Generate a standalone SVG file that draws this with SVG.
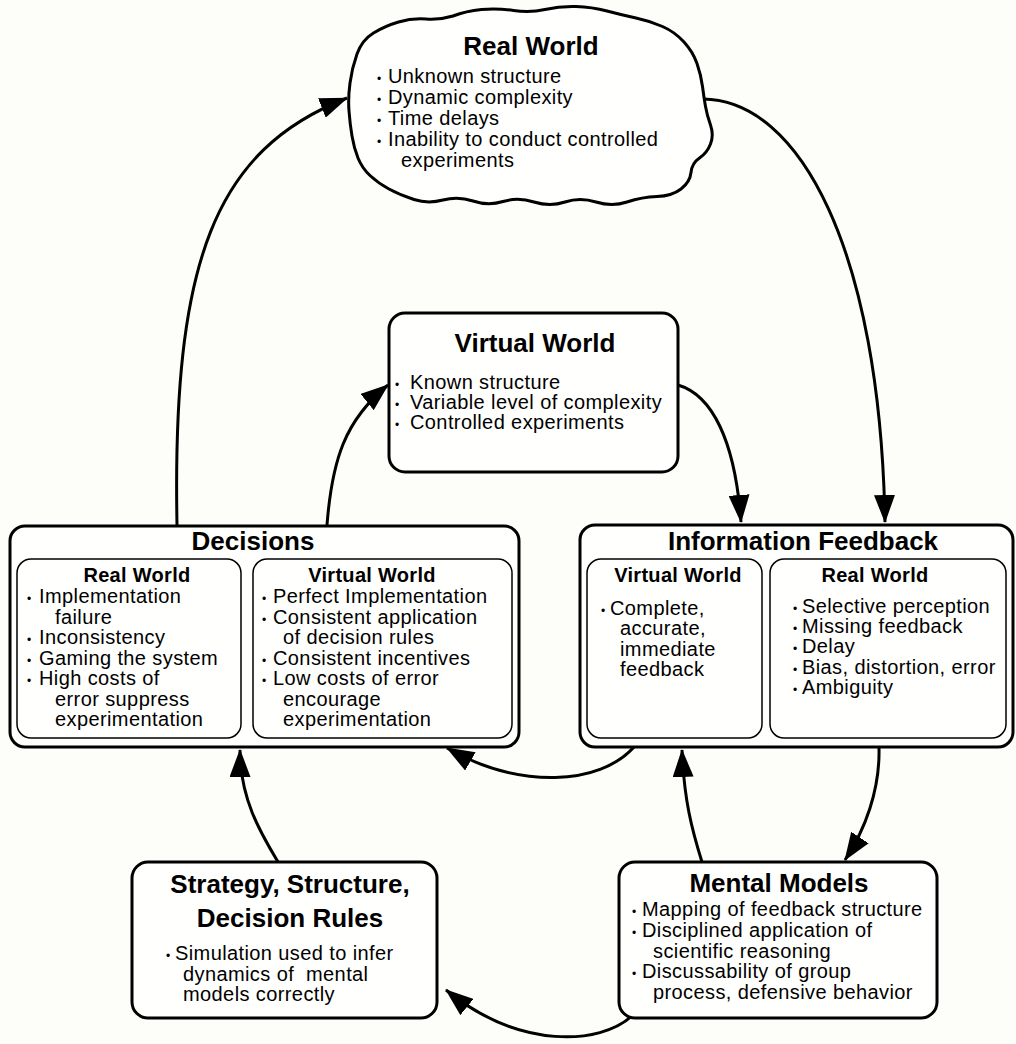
<svg xmlns="http://www.w3.org/2000/svg" width="1016" height="1044" viewBox="0 0 1016 1044">
<defs>
<style>
text { font-family: "Liberation Sans", Arial, Helvetica, sans-serif; fill: #000; }
.h { font-size: 26px; font-weight: bold; text-anchor: middle; }
.s { font-size: 20px; font-weight: bold; text-anchor: middle; letter-spacing: 0.3px; }
.p { font-size: 20px; letter-spacing: 0.4px; }
.b { font-size: 12px; letter-spacing: 0; }
.box { fill: #fffffd; stroke: #000; stroke-width: 3; }
.in { fill: none; stroke: #000; stroke-width: 1.5; }
.c { fill: none; stroke: #000; stroke-width: 3; marker-end: url(#ah); }
</style>
<marker id="ah" viewBox="0 0 28 21" markerWidth="28" markerHeight="21" markerUnits="userSpaceOnUse" refX="27" refY="10.5" orient="auto">
<path d="M0,0 L28,10.5 L0,21 Z" fill="#000"/>
</marker>
</defs>
<rect x="0" y="0" width="1016" height="1044" fill="#fdfdf9"/>

<g id="connectors">
<path class="c" d="M177,525 C172,260 215,150 347,98"/>
<path class="c" d="M703,99 C800,100 880,250 885,522"/>
<path class="c" d="M327,525 C332,460 345,420 388,385"/>
<path class="c" d="M678,385 C712,395 735,440 741,522"/>
<path class="c" d="M634,747 C600,785 520,790 447,748"/>
<path class="c" d="M702,862 C692,830 684,800 682,750"/>
<path class="c" d="M879,748 C880,790 865,830 845,860"/>
<path class="c" d="M632,1016 C600,1045 520,1050 446,990"/>
<path class="c" d="M278,862 C262,835 240,800 240,750"/>
</g>

<g id="real-world">
<path class="box" d="M349,111 Q348,98 350,83 Q352,68 357,54 Q362,40 373.5,33 Q385,26 398.5,22 Q412,18 426,19 Q440,20 453,16 Q466,11 481.5,9.5 Q497,8 513.5,10.5 Q530,13 545,9.5 Q560,6 576,6.5 Q592,7 607,11 Q622,15 636,18 Q650,21 662.5,26.5 Q675,32 684,42 Q693,52 697,63.5 Q701,75 702.5,86.5 Q704,98 705.5,106.5 Q707,115 710.5,125 Q714,135 710.5,144 Q707,153 699.5,158 Q692,163 691,172.5 Q690,182 681,189 Q672,196 657,196.5 Q642,197 627,202 Q612,207 596,202 Q580,197 565,202 Q550,207 534,202 Q518,197 503,201.5 Q488,206 473,201 Q458,196 443,200 Q428,204 414,199.5 Q400,195 389,189 Q378,183 370,175.5 Q362,168 358,158 Q354,148 352,136 Q350,124 349,111 Z"/>
<text class="h" x="531" y="55">Real World</text>
<text class="p" y="83"><tspan class="b" x="377">•</tspan><tspan x="388">Unknown structure</tspan></text>
<text class="p" y="104"><tspan class="b" x="377">•</tspan><tspan x="388">Dynamic complexity</tspan></text>
<text class="p" y="125"><tspan class="b" x="377">•</tspan><tspan x="388">Time delays</tspan></text>
<text class="p" y="146"><tspan class="b" x="377">•</tspan><tspan x="388">Inability to conduct controlled</tspan></text>
<text class="p" x="401" y="167">experiments</text>
</g>

<g id="virtual-world">
<rect class="box" x="389" y="313" width="289" height="159" rx="16"/>
<text class="h" x="535" y="352">Virtual World</text>
<text class="p" y="389"><tspan class="b" x="395">•</tspan><tspan x="410">Known structure</tspan></text>
<text class="p" y="409"><tspan class="b" x="395">•</tspan><tspan x="410">Variable level of complexity</tspan></text>
<text class="p" y="429"><tspan class="b" x="395">•</tspan><tspan x="410">Controlled experiments</tspan></text>
</g>

<g id="decisions">
<rect class="box" x="10" y="526" width="509" height="221" rx="15"/>
<rect class="in" x="17" y="559" width="224" height="179" rx="14"/>
<rect class="in" x="253" y="559" width="259" height="179" rx="14"/>
<text class="h" x="253" y="550">Decisions</text>
<text class="s" x="137" y="582">Real World</text>
<text class="s" x="372" y="582">Virtual World</text>
<text class="p" y="603"><tspan class="b" x="27">•</tspan><tspan x="39">Implementation</tspan></text>
<text class="p" x="55" y="623.5">failure</text>
<text class="p" y="644"><tspan class="b" x="27">•</tspan><tspan x="39">Inconsistency</tspan></text>
<text class="p" y="664.5"><tspan class="b" x="27">•</tspan><tspan x="39">Gaming the system</tspan></text>
<text class="p" y="685"><tspan class="b" x="27">•</tspan><tspan x="39">High costs of</tspan></text>
<text class="p" x="55" y="705.5">error suppress</text>
<text class="p" x="55" y="726">experimentation</text>
<text class="p" y="603"><tspan class="b" x="262">•</tspan><tspan x="273">Perfect Implementation</tspan></text>
<text class="p" y="623.5"><tspan class="b" x="262">•</tspan><tspan x="273">Consistent application</tspan></text>
<text class="p" x="283" y="644">of decision rules</text>
<text class="p" y="664.5"><tspan class="b" x="262">•</tspan><tspan x="273">Consistent incentives</tspan></text>
<text class="p" y="685"><tspan class="b" x="262">•</tspan><tspan x="273">Low costs of error</tspan></text>
<text class="p" x="283" y="705.5">encourage</text>
<text class="p" x="283" y="726">experimentation</text>
</g>

<g id="information-feedback">
<rect class="box" x="580" y="525" width="433" height="222" rx="15"/>
<rect class="in" x="587" y="559" width="175" height="179" rx="14"/>
<rect class="in" x="770" y="559" width="236" height="179" rx="14"/>
<text class="h" x="803" y="550">Information Feedback</text>
<text class="s" x="678" y="582">Virtual World</text>
<text class="s" x="875" y="582">Real World</text>
<text class="p" y="615"><tspan class="b" x="601">•</tspan><tspan x="610">Complete,</tspan></text>
<text class="p" x="620" y="635">accurate,</text>
<text class="p" x="620" y="655.5">immediate</text>
<text class="p" x="620" y="676">feedback</text>
<text class="p" y="612.5"><tspan class="b" x="793">•</tspan><tspan x="802">Selective perception</tspan></text>
<text class="p" y="633"><tspan class="b" x="793">•</tspan><tspan x="802">Missing feedback</tspan></text>
<text class="p" y="653"><tspan class="b" x="793">•</tspan><tspan x="802">Delay</tspan></text>
<text class="p" y="673.5"><tspan class="b" x="793">•</tspan><tspan x="802">Bias, distortion, error</tspan></text>
<text class="p" y="694"><tspan class="b" x="793">•</tspan><tspan x="802">Ambiguity</tspan></text>
</g>

<g id="strategy">
<rect class="box" x="132" y="862" width="305" height="156" rx="16"/>
<text class="h" x="290" y="893">Strategy, Structure,</text>
<text class="h" x="290" y="927">Decision Rules</text>
<text class="p" y="960"><tspan class="b" x="166">•</tspan><tspan x="175">Simulation used to infer</tspan></text>
<text class="p" x="183" y="980.5" xml:space="preserve">dynamics of  mental</text>
<text class="p" x="183" y="1001">models correctly</text>
</g>

<g id="mental-models">
<rect class="box" x="619" y="862" width="318" height="156" rx="16"/>
<text class="h" x="779" y="892">Mental Models</text>
<text class="p" y="916"><tspan class="b" x="632">•</tspan><tspan x="642">Mapping of feedback structure</tspan></text>
<text class="p" y="936.5"><tspan class="b" x="632">•</tspan><tspan x="642">Disciplined application of</tspan></text>
<text class="p" x="653" y="957.5">scientific reasoning</text>
<text class="p" y="978"><tspan class="b" x="632">•</tspan><tspan x="642">Discussability of group</tspan></text>
<text class="p" x="653" y="999">process, defensive behavior</text>
</g>
</svg>
